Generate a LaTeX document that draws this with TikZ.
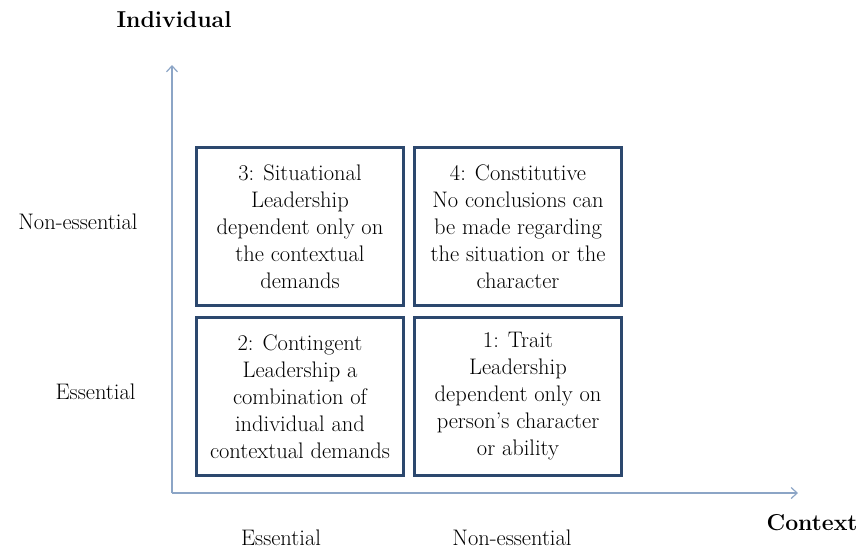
\documentclass[tikz,border=0pt]{standalone}
\usetikzlibrary{arrows.meta,positioning}
\definecolor{boxblue}{RGB}{44,72,110}
\definecolor{axisblue}{RGB}{140,165,198}
\tikzset{
	quad/.style={draw=boxblue, line width=3pt, minimum width=207pt, minimum height=158pt, align=center, inner sep=0pt, font=\fontsize{22.5}{27}\selectfont},
	axis/.style={draw=axisblue, line width=1.2pt, -{Straight Barb[length=6pt,width=11pt]}},
	lbl/.style={font=\fontsize{22.5}{27}\selectfont},
	ttl/.style={font=\fontsize{23}{27}\selectfont\bfseries}
}

\begin{document}
\begin{tikzpicture}[x=1pt,y=-1pt]
				\useasboundingbox (0,0) rectangle (858,550);
				
				\coordinate (o) at (172,493);
				\coordinate (ytip) at (172,65);
				\coordinate (xtip) at (798,493);
				\draw[axis] (o) -- (ytip);
				\draw[axis] (o) -- (xtip);
				
				\node[quad] (s3) at (300,226.5) {3: Situational\\Leadership\\dependent only on\\the contextual\\demands};
				\node[quad, right=8pt of s3] (s4) {4: Constitutive\\No conclusions can\\be made regarding\\the situation or the\\character};
				\node[quad, below=9pt of s3] (s2) {2: Contingent\\Leadership a\\combination of\\individual and\\contextual demands};
				\node[quad, below=9pt of s4] (s1) {1: Trait\\Leadership\\dependent only on\\person's character\\or ability};
				
				\node[lbl, anchor=east] (ne) at (141,222) {Non-essential};
				\node[lbl, anchor=east] (es) at (139,392) {Essential};
				\node[lbl] (ex) at (281,538) {Essential};
				\node[lbl] (nx) at (512,538) {Non-essential};
				
				\node[ttl] (ind) at (174,20) {Individual};
				\node[ttl] (ctx) at (812,523) {Context};
			\end{tikzpicture}
\end{document}
